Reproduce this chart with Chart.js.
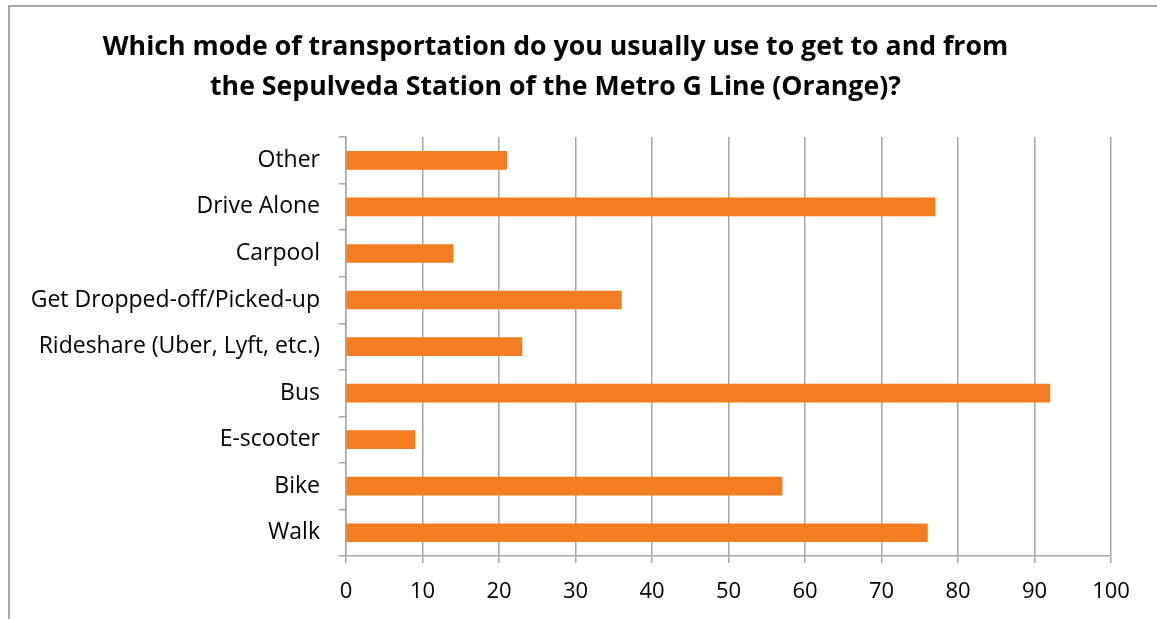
<!DOCTYPE html>
<html>
<head>
<meta charset="utf-8">
<script src="https://cdn.jsdelivr.net/npm/chart.js@4/dist/chart.umd.min.js"></script>
<style>
    html, body { margin: 0; padding: 0; background: #fff; }
    #wrap { position: relative; width: 1157px; height: 619px; overflow: hidden; }
    #frame { position: absolute; left: 8px; top: 5px; width: 1200px; height: 700px;
             border-left: 2px solid #a6a6a6; border-top: 2px solid #a6a6a6; }
    #chart { position: absolute; left: 0; top: 0; }
</style>
</head>
<body>
<div id="wrap">
    <div id="frame"></div>
    <canvas id="chart" width="1157" height="619"></canvas>
</div>
<script>
// survey answers, top to bottom as drawn
var modes = ['Other', 'Drive Alone', 'Carpool', 'Get Dropped-off/Picked-up',
    'Rideshare (Uber, Lyft, etc.)', 'Bus', 'E-scooter', 'Bike', 'Walk'];
var responses = [21, 77, 14, 36, 23, 92, 9, 57, 76];

var xMin = 0;
var xMax = 100;
var xStep = 10;

var titleLines = ['Which mode of transportation do you usually use to get to and from',
    'the Sepulveda Station of the Metro G Line (Orange)?'];

var axisGrey = '#a6a6a6';
var barOrange = '#f47d22';
var fontFamily = '"Open Sans", Lato, sans-serif';

new Chart(document.getElementById('chart'), {
    type: 'bar',
    data: {
        labels: modes,
        datasets: [{
            data: responses,
            backgroundColor: barOrange,
            borderWidth: 0,
            barThickness: 18
        }]
    },
    options: {
        indexAxis: 'y',
        responsive: false,
        animation: false,
        devicePixelRatio: 1,
        layout: {
            padding: { left: 0, right: 46, top: 0, bottom: 0 }
        },
        plugins: {
            legend: { display: false },
            tooltip: { enabled: false },
            title: {
                display: true,
                text: titleLines,
                color: '#000',
                font: { family: fontFamily, size: 26.7, weight: 'bold', lineHeight: 1.5 },
                padding: { top: 27, bottom: 30 }
            }
        },
        scales: {
            x: {
                min: xMin,
                max: xMax,
                ticks: {
                    stepSize: xStep,
                    color: '#000',
                    padding: 16,
                    font: { family: fontFamily, size: 22 }
                },
                grid: {
                    color: axisGrey,
                    lineWidth: 1.5,
                    tickLength: 7
                },
                border: { display: true, color: axisGrey, width: 1.5 },
                afterFit: function (scale) { scale.height = 63; }
            },
            y: {
                ticks: {
                    color: '#000',
                    padding: 19,
                    font: { family: fontFamily, size: 23 }
                },
                grid: {
                    color: axisGrey,
                    lineWidth: 1.5,
                    drawOnChartArea: false,
                    tickLength: 7
                },
                border: { display: true, color: axisGrey, width: 1.5 },
                afterFit: function (scale) { scale.width = 346; }
            }
        }
    }
});
</script>
</body>
</html>
